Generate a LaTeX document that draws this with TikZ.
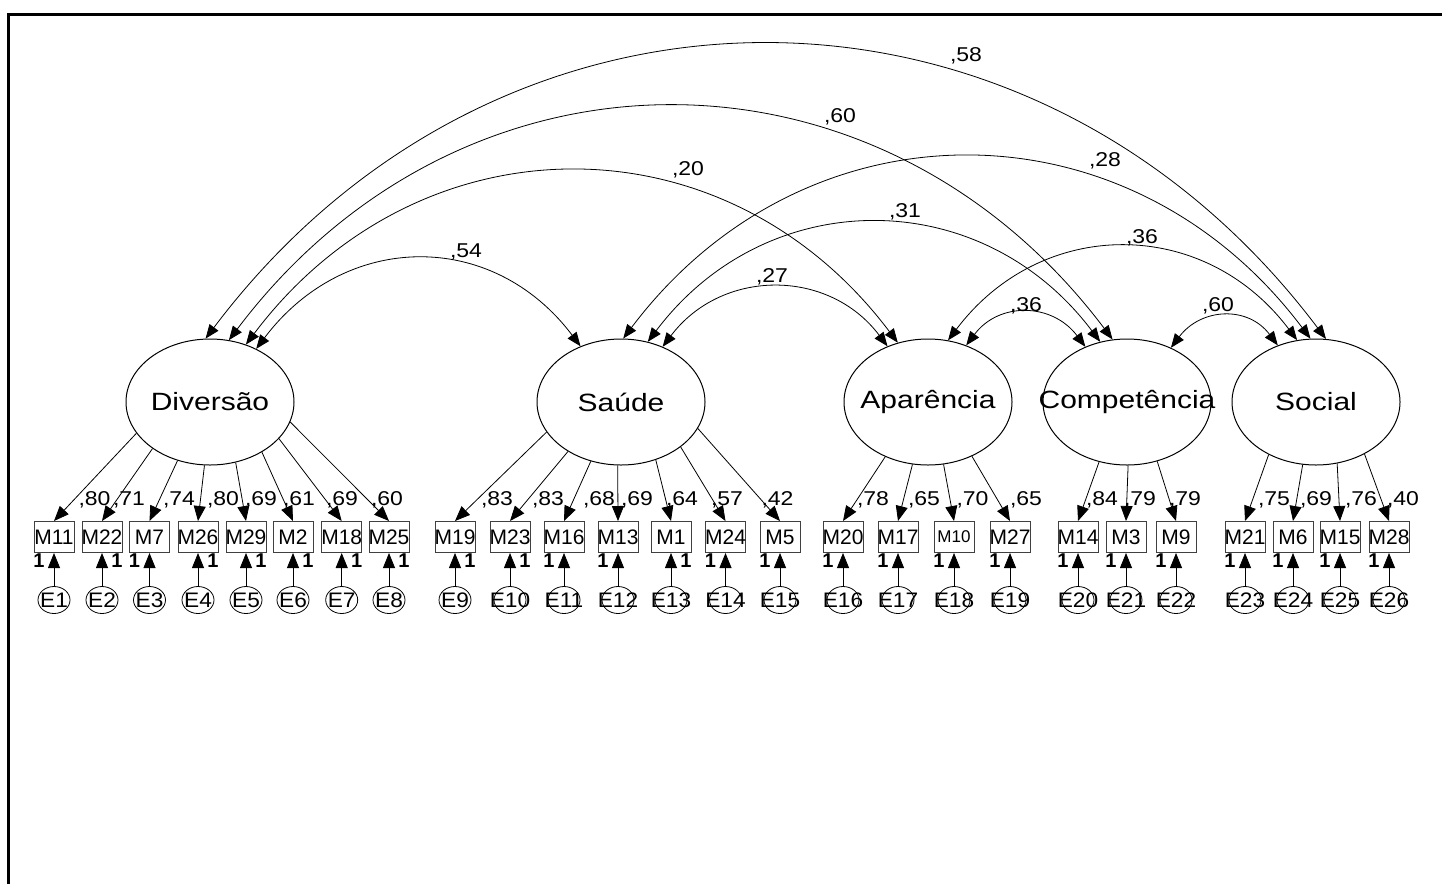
\documentclass[tikz,border=0pt]{standalone}
\usepackage{fontspec}
\setmainfont{Liberation Sans}
\newfontfamily\latfam[FakeStretch=1.2]{Liberation Sans}
\newfontfamily\numfam[FakeStretch=1.15]{Liberation Sans}
\newfontfamily\errfam[FakeStretch=1.08]{Liberation Sans}
\newcommand\fLat{\latfam\fontsize{25}{25}\selectfont}
\newcommand\fObs{\fontsize{21}{21}\selectfont}
\newcommand\fSmallObs{\fontsize{17}{17}\selectfont}
\newcommand\fErr{\errfam\fontsize{21}{21}\selectfont}
\newcommand\fNum{\numfam\fontsize{20}{20}\selectfont}
\newcommand\fOne{\bfseries\fontsize{20}{20}\selectfont}
\usetikzlibrary{shapes.geometric,arrows.meta}

\tikzset{
  lat/.style={ellipse, draw, line width=1pt, minimum width=168pt, minimum height=126pt, inner sep=0pt, font=\fLat},
  obs/.style={rectangle, draw=black!75, line width=1pt, minimum width=40pt, minimum height=31pt, inner sep=0pt, font=\fObs},
  err/.style={ellipse, draw, line width=0.8pt, minimum width=32pt, minimum height=27pt, inner sep=0pt, font=\fErr},
  arr/.style={-{Triangle[length=15pt,width=12pt]}, line width=0.8pt},
  cov/.style={{Triangle[length=14pt,width=11pt]}-{Triangle[length=14pt,width=11pt]}, line width=0.8pt},
  num/.style={font=\fNum, inner sep=0pt},
  fixed/.style={font=\fOne, inner sep=0pt},
}

\begin{document}
\begin{tikzpicture}[x=1pt,y=-1pt]
\useasboundingbox (0,0) rectangle (1442,884);

% frame
\draw[line width=3pt] (8,884) -- (8,14.3) -- (1442,14.3);

% latent factors
\node[lat] (div) at (210,402) {\makebox[0pt]{\raisebox{-2pt}{Diversão}}};
\node[lat] (sau) at (621,402) {\makebox[0pt]{\raisebox{-2pt}{Saúde}}};
\node[lat] (apa) at (928,402) {\makebox[0pt]{\raisebox{-2pt}{Aparência}}};
\node[lat] (com) at (1127,402) {\makebox[0pt]{\raisebox{-2pt}{Competência}}};
\node[lat] (soc) at (1316,402) {\makebox[0pt]{\raisebox{-2pt}{Social}}};

% indicators, error terms, loadings
\foreach \i/\x/\m/\o/\lat/\ang/\lx/\v in {
  1/54/M11/-15/div/-157/94.5/{,80},
  2/102/M22/15/div/-141/129/{,71},
  3/149.5/M7/-15/div/-119/179/{,74},
  4/198/M26/15/div/-95/223/{,80},
  5/246/M29/15/div/-67.7/261/{,69},
  6/293/M2/15/div/-44.4/299/{,61},
  7/341.7/M18/15/div/-28.8/342/{,69},
  8/389/M25/15/div/-14.4/387/{,60},
  9/455/M19/15/sau/-158.5/497/{,83},
  10/510/M23/15/sau/-137.2/548/{,83},
  11/564/M16/-15/sau/-117.3/599/{,68},
  12/618/M13/-15/sau/-93.6/637/{,69},
  13/671/M1/15/sau/-59.6/682/{,64},
  14/725.5/M24/-15/sau/-37/727/{,57},
  15/780/M5/-15/sau/-19.3/777.5/{,42},
  16/843/M20/-15/apa/-128.8/873/{,78},
  17/898/M17/-15/apa/-104.5/924/{,65},
  18/954/{\fSmallObs M10}/-15/apa/-76.6/972.5/{,70},
  19/1010/M27/-15/apa/-51.8/1026/{,65},
  20/1078/M14/-15/com/-115/1102/{,84},
  21/1126/M3/-15/com/-89/1140/{,79},
  22/1176/M9/-15/com/-63.4/1185/{,79},
  23/1245/M21/-15/soc/-132/1274/{,75},
  24/1293/M6/-15/soc/-102.5/1316/{,69},
  25/1340/M15/-15/soc/-71.6/1361/{,76},
  26/1389/M28/-15/soc/-47.8/1403/{,40}}{
  \node[obs] (m\i) at (\x,537) {\makebox[0pt]{\m}};
  \node[err] (e\i) at (\x,600) {\makebox[0pt]{E\i}};
  \draw[arr] (e\i) -- (m\i);
  \node[fixed] (one\i) at (\x+\o,561) {1};
  \draw[arr] (\lat.\ang) -- (m\i.north);
  \node[num] (w\i) at (\lx,500) {\v};
}

% covariances between factors
\draw[cov] (div.94.5) .. controls +(-53:490) and +(-127:490) .. (soc.81.8);
\draw[cov] (div.73.7) .. controls +(-53:388) and +(-127:388) .. (com.103.6);
\draw[cov] (div.58.6) .. controls +(-53:287) and +(-127:287) .. (apa.117.9);
\draw[cov] (div.49.8) .. controls +(-53:147) and +(-127:147) .. (sau.126.7);
\draw[cov] (sau.88) .. controls +(-53:302) and +(-127:302) .. (soc.95.5);
\draw[cov] (sau.66.5) .. controls +(-53:198) and +(-127:198) .. (com.114.3);
\draw[cov] (sau.53.3) .. controls +(-53:98) and +(-127:98) .. (apa.126.7);
\draw[cov] (apa.72.8) .. controls +(-53:155) and +(-127:155) .. (soc.107.8);
\draw[cov] (apa.56.8) .. controls +(-53:55) and +(-127:55) .. (com.127.6);
\draw[cov] (com.51.5) .. controls +(-53:50) and +(-127:50) .. (soc.124.9);

% covariance values
\node[num] (c58) at (966,56) {,58};
\node[num] (c60a) at (840,117) {,60};
\node[num] (c20) at (688,170) {,20};
\node[num] (c28) at (1105,161) {,28};
\node[num] (c31) at (905,212) {,31};
\node[num] (c54) at (466,252) {,54};
\node[num] (c36a) at (1142,238) {,36};
\node[num] (c27) at (772,277) {,27};
\node[num] (c36b) at (1026,306) {,36};
\node[num] (c60b) at (1218,306) {,60};
\end{tikzpicture}
\end{document}
